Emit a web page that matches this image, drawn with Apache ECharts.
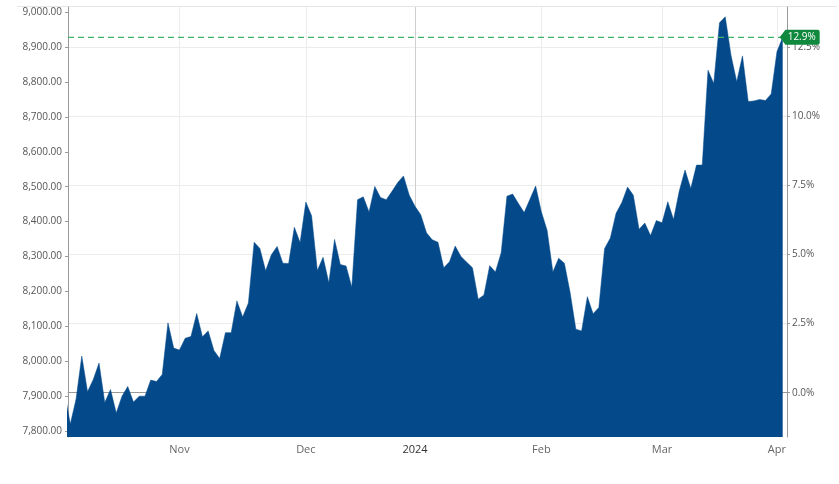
<!DOCTYPE html>
<html><head><meta charset="utf-8">
<script src="https://cdn.jsdelivr.net/npm/echarts@6/dist/echarts.min.js"></script>
<style>html,body{margin:0;padding:0;background:#fff}#c{width:839px;height:484px}</style>
</head><body><div id="c"></div>
<script>
// ---- data ----
const closes = [7910,
  7820,7891,8015,7913,7948,7995,7882,7919,7852,7900,
  7928,7883,7900,7900,7946,7942,7962,8110,8038,8032,
  8066,8071,8137,8070,8087,8031,8008,8082,8082,8173,
  8127,8167,8341,8323,8259,8305,8329,8281,8280,8384,
  8340,8456,8417,8260,8298,8225,8349,8277,8273,8212,
  8463,8471,8428,8501,8469,8463,8487,8512,8531,8476,
  8444,8420,8368,8348,8341,8268,8285,8330,8300,8284,
  8268,8178,8190,8274,8256,8311,8473,8479,8452,8426,
  8464,8502,8428,8375,8256,8295,8281,8197,8092,8087,
  8185,8136,8154,8323,8353,8424,8455,8499,8476,8378,
  8396,8360,8403,8397,8457,8406,8488,8548,8495,8562,
  8562,8834,8796,8970,8987,8877,8801,8875,8744,8746,
  8750,8747,8766,8887,8928];
const firstDate = '2023-10-04';
const holidays = ['2023-12-25','2023-12-26','2024-01-01','2024-03-29','2024-04-01'];
const leftTicks = [7800,7900,8000,8100,8200,8300,8400,8500,8600,8700,8800,8900,9000];
const rightTicks = [0,2.5,5,7.5,10,12.5];
const monthNames = ['Jan','Feb','Mar','Apr','May','Jun','Jul','Aug','Sep','Oct','Nov','Dec'];

// ---- trading calendar ----
const dates = [];
{
  let d = new Date(firstDate + 'T00:00:00Z');
  while (dates.length < closes.length) {
    const iso = d.toISOString().slice(0,10);
    const wd = d.getUTCDay();
    if (wd !== 0 && wd !== 6 && holidays.indexOf(iso) < 0) dates.push(new Date(d));
    d.setUTCDate(d.getUTCDate() + 1);
  }
}
const monthStarts = [];
for (let i = 1; i < dates.length; i++) {
  if (dates[i].getUTCMonth() !== dates[i-1].getUTCMonth()) monthStarts.push(i);
}
function monthLabel(i) {
  const d = dates[Math.round(i)];
  return d.getUTCMonth() === 0 ? String(d.getUTCFullYear()) : monthNames[d.getUTCMonth()];
}

const baseValue = closes[0];
const lastValue = closes[closes.length - 1];
const lastPct = (lastValue / baseValue - 1) * 100;
const yMin = 7783, yMax = 9015;
const xMin = 0.6, xMax = closes.length - 0.25;
const green = '#3fb36b';

const chart = echarts.init(document.getElementById('c'), null, {renderer: 'canvas'});
const font = 'Open Sans';
chart.setOption({
  animation: false,
  backgroundColor: '#fff',
  grid: {left: 68, right: 52, top: 7, bottom: 47, containLabel: false},
  graphic: [{type: 'line', shape: {x1: 17, y1: 6.5, x2: 837, y2: 6.5}, style: {stroke: '#e6e6e6', lineWidth: 1}, z: -1}],
  xAxis: {
    type: 'value', min: xMin, max: xMax,
    axisLine: {show: true, lineStyle: {color: '#999', width: 1}},
    axisTick: {show: true, customValues: monthStarts, length: 5, lineStyle: {color: '#999'}},
    axisLabel: {customValues: monthStarts, formatter: v => monthLabel(v), margin: 7,
      fontFamily: font, fontSize: 11,
      color: (v) => dates[Math.round(v)].getUTCMonth() === 0 ? '#333' : '#666'},
    splitLine: {show: true, lineStyle: {color: ['#ececec','#ececec','#cfcfcf','#ececec','#ececec','#ececec'], width: 1}}
  },
  yAxis: [{
    type: 'value', min: yMin, max: yMax, position: 'left',
    axisLine: {show: true, lineStyle: {color: '#999'}},
    axisTick: {show: true, customValues: leftTicks, length: 3, lineStyle: {color: '#999'}},
    axisLabel: {customValues: leftTicks, margin: 6, fontFamily: font, fontSize: 10, color: '#555',
      formatter: v => v.toLocaleString('en-US', {minimumFractionDigits: 2, maximumFractionDigits: 2})},
    splitLine: {show: false}
  }, {
    type: 'value', position: 'right',
    min: (yMin / baseValue - 1) * 100, max: (yMax / baseValue - 1) * 100,
    axisLine: {show: true, lineStyle: {color: '#999'}},
    axisTick: {show: true, customValues: rightTicks, length: 3, lineStyle: {color: '#999'}},
    axisLabel: {customValues: rightTicks, margin: 5, fontFamily: font, fontSize: 10, color: '#555',
      formatter: v => v.toFixed(1) + '%'},
    splitLine: {show: true, lineStyle: {color: '#ececec', width: 1}}
  }],
  series: [{
    type: 'line', yAxisIndex: 0, z: 2,
    data: closes.map((v, i) => [i, v]),
    showSymbol: false, symbol: 'none',
    lineStyle: {width: 0.5, color: '#044a8b'},
    areaStyle: {color: '#044a8b', opacity: 1, origin: 'start'},
    markPoint: {
      silent: true, animation: false,
      data: [{coord: [closes.length - 1, lastValue]}],
      symbol: 'path://M0,7 L6,0 L40,0 Q42,0 42,2 L42,12 Q42,14 40,14 L6,14 Z',
      symbolSize: [40, 15], symbolKeepAspect: false,
      symbolOffset: [17, 0],
      itemStyle: {color: '#10893e'},
      label: {show: true, position: 'inside', offset: [2, 0], formatter: lastPct.toFixed(1) + '%',
        color: '#fff', fontFamily: font, fontSize: 10}
    }
  }, {
    type: 'line', yAxisIndex: 0, z: 3, silent: true,
    data: [[xMin, lastValue], [xMax, lastValue]],
    showSymbol: false, symbol: 'none',
    itemStyle: {color: green},
    lineStyle: {color: green, type: [6, 4], width: 1.4, opacity: 1}
  }]
});
</script></body></html>
